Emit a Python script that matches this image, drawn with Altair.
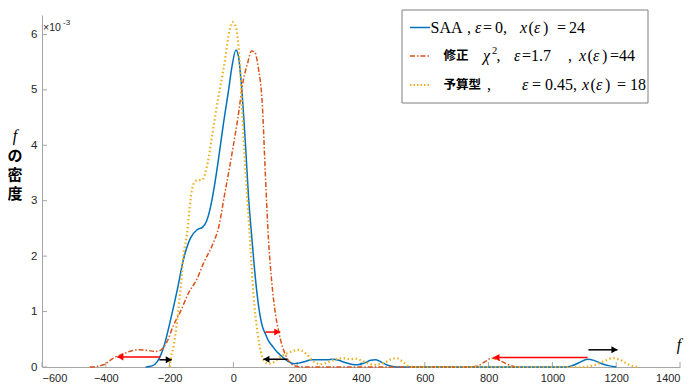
import altair as alt
import pandas as pd

# ---------------- data ----------------
saa_x = [-275, -255, -238, -219, -197, -176, -157, -135, -113, -97, -85, -72, -60, -50, -31, -15, -5, 8, 16, 27,
         38, 47, 59, 69, 79, 90, 100, 110, 122, 137, 150, 169, 190, 204, 225, 245, 270, 294, 310, 330, 345, 370,
         388, 410, 430, 445, 460, 480, 500, 520, 1040, 1060, 1085, 1110, 1130, 1155, 1180, 1200]
saa_y = [0, 0.02, 0.1, 0.35, 0.85, 1.39, 1.93, 2.32, 2.48, 2.52, 2.62, 2.88, 3.25, 3.62, 4.4, 5.0, 5.4, 5.72, 5.6, 4.95,
         4.0, 3.1, 2.25, 1.6, 1.1, 0.75, 0.6, 0.47, 0.38, 0.27, 0.2, 0.11, 0.06, 0.07, 0.1, 0.13, 0.13, 0.13, 0.14, 0.12,
         0.09, 0.05, 0.04, 0.07, 0.12, 0.13, 0.1, 0.04, 0.01, 0, 0, 0.02, 0.08, 0.14, 0.12, 0.06, 0.02, 0]

chi_x = [-450, -430, -407, -376, -340, -300, -270, -245, -229, -207, -188, -166, -141, -113, -94, -66, -45, -28, -12, 0,
         13, 31, 44, 57, 67, 78, 91, 100, 110, 120, 132, 141, 153, 163, 179, 200, 230, 740, 765, 790, 810, 830, 855,
         878, 900]
chi_y = [0, 0.01, 0.04, 0.16, 0.25, 0.31, 0.3, 0.28, 0.3, 0.47, 0.75, 1.0, 1.33, 1.6, 1.87, 2.2, 2.55, 3.1, 3.6, 4.0,
         4.45, 5.17, 5.47, 5.7, 5.68, 5.4, 4.7, 3.5, 2.3, 1.55, 0.95, 0.67, 0.38, 0.22, 0.07, 0.01, 0, 0, 0.02, 0.1,
         0.16, 0.13, 0.06, 0.01, 0]

bud_x = [-200, -197, -188, -176, -166, -157, -144, -135, -125, -113, -103, -94, -88, -80, -66, -47, -35, -25, -19, -12,
         -3, 6, 13, 22, 31, 44, 53, 63, 75, 85, 94, 110, 125, 147, 179, 204, 226, 251, 273, 295, 320, 345, 365, 385,
         400, 420, 445, 470, 495, 510, 530, 548, 570, 1100, 1130, 1160, 1190, 1215, 1240, 1265]
bud_y = [0, 0.13, 0.36, 0.85, 1.39, 1.98, 2.47, 3.0, 3.3, 3.37, 3.37, 3.4, 3.5, 3.7, 4.2, 4.87, 5.25, 5.59, 5.84, 6.07,
         6.22, 6.16, 5.95, 5.3, 4.2, 3.0, 2.2, 1.3, 0.65, 0.3, 0.13, 0.06, 0.08, 0.18, 0.27, 0.31, 0.25, 0.1, 0.05, 0.08,
         0.14, 0.16, 0.14, 0.15, 0.12, 0.07, 0.04, 0.07, 0.14, 0.16, 0.1, 0.02, 0, 0, 0.03, 0.1, 0.16, 0.12, 0.04, 0]

arrow_from = [-229, -232, 100, 169, 1110, 1113]
arrow_to = [-364, -193, 147, 94, 815, 1204]
arrow_y = [0.18, 0.13, 0.63, 0.14, 0.17, 0.31]
arrow_color = ["#ff0000", "#000000", "#ff0000", "#000000", "#ff0000", "#000000"]

x_ticks = [-600, -400, -200, 0, 200, 400, 600, 800, 1000, 1200, 1400]
y_ticks = [0, 1, 2, 3, 4, 5, 6]

# ---------------- layout ----------------
W, H = 638, 352
xs = alt.Scale(domain=[-600, 1400], nice=False, zero=False)
ys = alt.Scale(domain=[0, 6.35], nice=False, zero=False)
BLUE, RED, YEL = "#0072BD", "#D95319", "#EDB120"
AXC, LBC = "#a6a6a6", "#262626"
SERIF = "Liberation Serif"
CJK = "Noto Sans CJK JP"
SANS = "Liberation Sans"

one = pd.DataFrame({"a": [0]})

XAX = alt.Axis(values=x_ticks, ticks=False, grid=False, title=None, domainColor=AXC, labelColor=LBC,
               labelFont=SANS, labelFontSize=11, labelPadding=5, format="d")
YAX = alt.Axis(values=y_ticks, ticks=False, grid=False, title=None, domainColor=AXC, labelColor=LBC,
               labelFont=SANS, labelFontSize=11.5, labelPadding=5, format="d")


def X(field):
    return alt.X(field, scale=xs, axis=XAX)


def Y(field):
    return alt.Y(field, scale=ys, axis=YAX)


def curve(xv, yv, color, width, dash=None):
    df = pd.DataFrame({"x": xv, "y": yv})
    kw = dict(color=color, strokeWidth=width, interpolate="monotone")
    if dash:
        kw["strokeDash"] = dash
    return alt.Chart(df).mark_line(**kw).encode(x=X("x:Q"), y=Y("y:Q"))


def txt(x, y, s, size=16, font=SERIF, style="normal", weight="normal", align="left", color="black"):
    return alt.Chart(pd.DataFrame({"t": [s]})).mark_text(
        align=align, baseline="middle", font=font, fontSize=size, fontStyle=style,
        fontWeight=weight, color=color).encode(x=alt.value(x), y=alt.value(y), text="t:N")


def xeps(x, y):
    # "x(ε)" with math-like spacing
    return [txt(x, y, "x", style="italic"), txt(x + 8.5, y, "("), txt(x + 14, y, "ε", style="italic"),
            txt(x + 23, y, ")")]


# inward ticks
xt = pd.DataFrame({"v": x_ticks})
yt = pd.DataFrame({"v": y_ticks})
xtick = alt.Chart(xt).mark_rule(color=AXC, strokeWidth=1).encode(
    x=X("v:Q"), y=alt.value(H), y2=alt.value(H - 5))
ytick = alt.Chart(yt).mark_rule(color=AXC, strokeWidth=1).encode(
    y=Y("v:Q"), x=alt.value(0), x2=alt.value(5))

# arrows
adf = pd.DataFrame({"x1": arrow_from, "x2": arrow_to, "y": arrow_y, "c": arrow_color})
adf["right"] = adf["x2"] > adf["x1"]
arr_line = alt.Chart(adf).mark_rule(strokeWidth=1.5).encode(
    x=X("x1:Q"), x2="x2:Q", y=Y("y:Q"), color=alt.Color("c:N", scale=None))
head_r = alt.Chart(adf[adf["right"]]).mark_point(shape="triangle-right", filled=True, size=50, opacity=1,
                                                 xOffset=-3).encode(
    x=X("x2:Q"), y=Y("y:Q"), color=alt.Color("c:N", scale=None))
head_l = alt.Chart(adf[~adf["right"]]).mark_point(shape="triangle-left", filled=True, size=50, opacity=1,
                                                  xOffset=3).encode(
    x=X("x2:Q"), y=Y("y:Q"), color=alt.Color("c:N", scale=None))

# legend
box = alt.Chart(one).mark_rect(fill="white", stroke="#7f7f7f", strokeWidth=1).encode(
    x=alt.value(360), x2=alt.value(606), y=alt.value(-5), y2=alt.value(88))


def sample(y, color, width, dash=None):
    kw = dict(color=color, strokeWidth=width)
    if dash:
        kw["strokeDash"] = dash
    return alt.Chart(one).mark_rule(**kw).encode(x=alt.value(368), x2=alt.value(388), y=alt.value(y))


R1, R2, R3 = 12.5, 41, 70
legend = [
    box,
    sample(R1, BLUE, 1.5), sample(R2, RED, 1.5, [5, 2, 1.5, 2]), sample(R3, YEL, 2, [1.5, 2]),
    txt(388.5, R1, "SAA"), txt(425, R1, ","), txt(433, R1, "ε", style="italic"),
    txt(441, R1, "="), txt(453, R1, "0,"), *xeps(478, R1), txt(515, R1, "="), txt(527, R1, "24"),
    txt(401.5, R2, "修正", size=12.5, font=CJK, weight="bold"), txt(441, R2, "χ", style="italic"),
    txt(450, R2 - 5, "2", size=10.5), txt(454.5, R2, ","), txt(472, R2, "ε", style="italic"),
    txt(480, R2, "="), txt(489, R2, "1.7"), txt(526, R2, ","), *xeps(537, R2),
    txt(568, R2, "="), txt(577, R2, "44"),
    txt(401.5, R3, "予算型", size=12.5, font=CJK, weight="bold"), txt(445, R3, ","),
    txt(480, R3, "ε", style="italic"), txt(490, R3, "="), txt(503, R3, "0.45,"), *xeps(540, R3),
    txt(575, R3, "="), txt(588, R3, "18"),
]

# axis titles / exponent
labels = [
    txt(-27, 121, "f", size=16, style="italic", align="center"),
    txt(-27, 141, "の", size=15, font=CJK, weight="bold", align="center"),
    txt(-27, 160, "密", size=15, font=CJK, weight="bold", align="center"),
    txt(-27, 179, "度", size=15, font=CJK, weight="bold", align="center"),
    txt(637, 330, "f", size=16, style="italic", align="center"),
    txt(1, 13, "×10", size=10.5, font=SANS, color=LBC),
    txt(21, 8, "-3", size=8, font=SANS, color=LBC),
]

chart = alt.layer(
    xtick, ytick,
    curve(saa_x, saa_y, BLUE, 1.5),
    curve(chi_x, chi_y, RED, 1.5, [5, 2, 1.5, 2]),
    curve(bud_x, bud_y, YEL, 2.2, [1.5, 2.5]),
    arr_line, head_r, head_l,
    *legend, *labels,
).properties(
    width=W, height=H,
    autosize=alt.AutoSizeParams(type="none"),
    padding={"left": 34, "top": 7, "right": 5, "bottom": 18},
).configure_view(stroke=None)

chart.save("out.html", embed_options={"renderer": "svg", "actions": False})
